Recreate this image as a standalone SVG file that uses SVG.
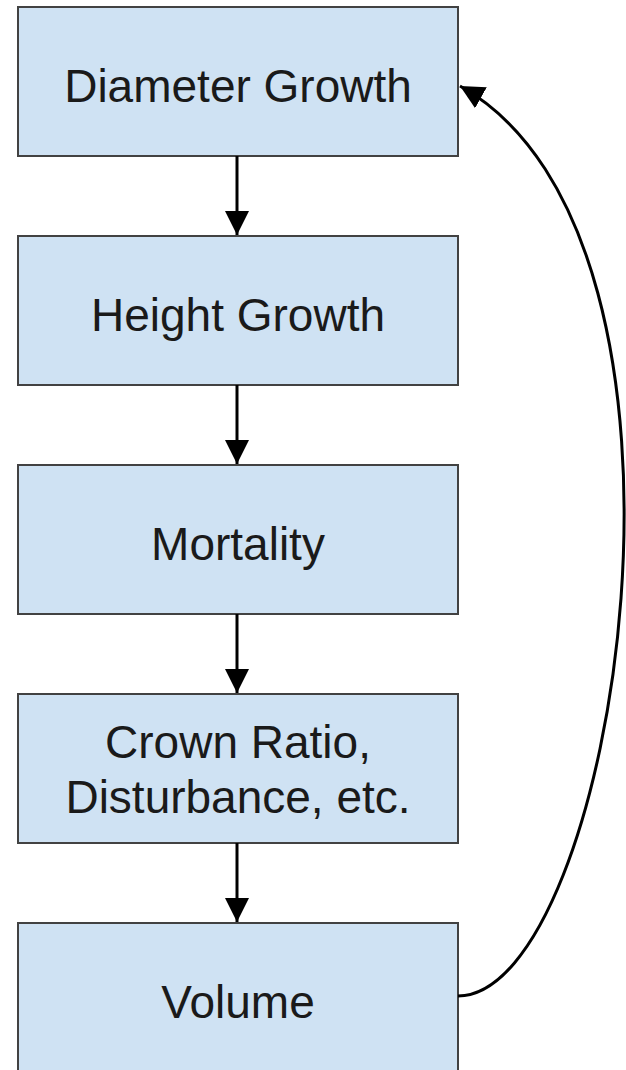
<svg xmlns="http://www.w3.org/2000/svg" width="626" height="1070" viewBox="0 0 626 1070">
<style>
.box{fill:#cfe2f3;stroke:#424242;stroke-width:2}
.lbl{font-family:"Liberation Sans",Arial,sans-serif;font-size:46px;fill:#1a1a1a;text-anchor:middle}
.edge{fill:none;stroke:#000;stroke-width:3}
</style>
<defs>
<marker id="ah" viewBox="0 0 10 10" refX="10" refY="5" markerWidth="8" markerHeight="8" markerUnits="strokeWidth" orient="auto">
<path d="M0,0 L10,5 L0,10 z" fill="#000"/>
</marker>
</defs>
<rect width="626" height="1070" fill="#fff"/>
<g id="n1"><rect class="box" x="18" y="7" width="440" height="149"/><text class="lbl" x="238" y="102">Diameter Growth</text></g>
<g id="n2"><rect class="box" x="18" y="236" width="440" height="149"/><text class="lbl" x="238" y="331">Height Growth</text></g>
<g id="n3"><rect class="box" x="18" y="465" width="440" height="149"/><text class="lbl" x="238" y="560">Mortality</text></g>
<g id="n4"><rect class="box" x="18" y="694" width="440" height="149"/><text class="lbl" x="238" y="758">Crown Ratio,</text><text class="lbl" x="238" y="813">Disturbance, etc.</text></g>
<g id="n5"><rect class="box" x="18" y="923" width="440" height="160"/><text class="lbl" x="238" y="1018">Volume</text></g>
<g id="edges">
<line class="edge" x1="237" y1="156" x2="237" y2="235" marker-end="url(#ah)"/>
<line class="edge" x1="237" y1="385" x2="237" y2="464" marker-end="url(#ah)"/>
<line class="edge" x1="237" y1="614" x2="237" y2="693" marker-end="url(#ah)"/>
<line class="edge" x1="237" y1="843" x2="237" y2="922" marker-end="url(#ah)"/>
<path class="edge" d="M458,996 C615,995 735,240 460,86" marker-end="url(#ah)"/>
</g>
</svg>
